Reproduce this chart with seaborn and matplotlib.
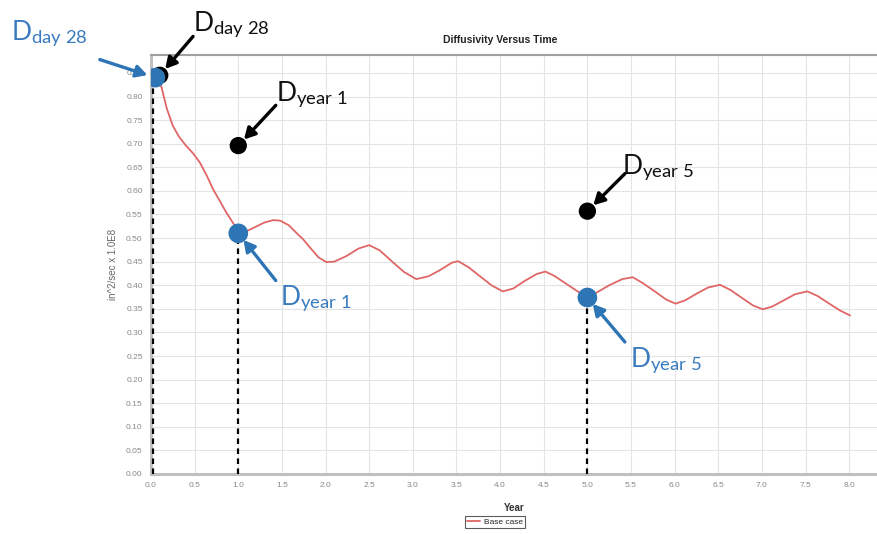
import numpy as np
import pandas as pd
import seaborn as sns
import matplotlib.pyplot as plt

# Base case diffusivity curve (years, in^2/sec x 1.0E8)
years = [0.07, 0.12, 0.18, 0.25, 0.32, 0.40, 0.48, 0.56, 0.64, 0.71, 0.79, 0.86, 0.94, 1.01,
         1.10, 1.20, 1.30, 1.40, 1.48, 1.58, 1.66, 1.74, 1.84, 1.92, 2.01, 2.10, 2.24, 2.38,
         2.50, 2.62, 2.77, 2.90, 3.04, 3.18, 3.31, 3.45, 3.52, 3.64, 3.77, 3.90, 4.03, 4.15,
         4.28, 4.42, 4.52, 4.62, 4.75, 4.88, 5.00, 5.12, 5.25, 5.40, 5.52, 5.64, 5.78, 5.90,
         6.01, 6.12, 6.25, 6.38, 6.52, 6.64, 6.78, 6.90, 7.01, 7.12, 7.25, 7.38, 7.52, 7.64,
         7.78, 7.90, 8.01]
diffusivity = [0.838, 0.820, 0.775, 0.738, 0.715, 0.696, 0.680, 0.660, 0.632, 0.604, 0.578, 0.555,
               0.532, 0.513, 0.515, 0.524, 0.533, 0.538, 0.537, 0.527, 0.512, 0.498, 0.476, 0.459,
               0.449, 0.450, 0.462, 0.478, 0.485, 0.474, 0.449, 0.428, 0.413, 0.419, 0.432, 0.448,
               0.451, 0.438, 0.419, 0.400, 0.387, 0.393, 0.409, 0.424, 0.429, 0.420, 0.404, 0.388,
               0.374, 0.386, 0.400, 0.413, 0.417, 0.404, 0.386, 0.370, 0.361, 0.368, 0.382, 0.395,
               0.401, 0.390, 0.372, 0.357, 0.349, 0.355, 0.368, 0.381, 0.387, 0.377, 0.360, 0.346,
               0.336]

# Marked points
blue_x = [0.05, 1.0, 5.0]
blue_y = [0.840, 0.510, 0.374]
black_x = [0.10, 1.0, 5.0]
black_y = [0.845, 0.696, 0.557]
vline_x = [0.02, 1.0, 5.0]
labels = ["day 28", "year 1", "year 5"]

x_ticks = np.arange(0, 8.01, 0.5)
y_ticks = np.arange(0, 0.851, 0.05)

sns.set_theme(style="whitegrid")
plt.rcParams["font.family"] = ["Liberation Sans", "DejaVu Sans"]
plt.rcParams["mathtext.fontset"] = "custom"
plt.rcParams["mathtext.rm"] = "Lato"
plt.rcParams["mathtext.it"] = "Lato:italic"

BLUE = "#2E75B6"
RED = "#E06666"

fig = plt.figure(figsize=(8.78, 5.34), dpi=100)
ax = fig.add_axes([0.172, 0.1124, 0.828, 0.7846])

df = pd.DataFrame({"Year": years, "D": diffusivity})
sns.lineplot(data=df, x="Year", y="D", ax=ax, color=RED, lw=1.3, label="Base case")

# dashed drop lines
ax.vlines(vline_x, 0, blue_y, colors="black", linestyles=(0, (2.5, 2)), lw=1.6, zorder=3)

sns.scatterplot(x=black_x, y=black_y, ax=ax, color="black", s=155, edgecolor="none", zorder=4)
sns.scatterplot(x=blue_x, y=blue_y, ax=ax, color=BLUE, s=200, edgecolor="none", zorder=5)

handles, leg_labels = ax.get_legend_handles_labels()
if ax.get_legend() is not None:
    ax.get_legend().remove()

ax.set_xlim(0, 8.33)
ax.set_ylim(0, 0.888)
ax.set_xticks(x_ticks)
ax.set_yticks(y_ticks)
ax.set_xticklabels([f"{v:.1f}" for v in x_ticks])
ax.set_yticklabels([f"{v:.2f}" for v in y_ticks])
ax.tick_params(axis="both", labelsize=6, colors="#999999", length=3, width=0.8, pad=3)
ax.tick_params(axis="both", labelcolor="#888888")
ax.grid(True, color="#e4e4e4", lw=0.8)

for side in ["left", "bottom"]:
    ax.spines[side].set_color("#c0c0c0")
    ax.spines[side].set_linewidth(2.2)
ax.spines["top"].set_color("#a0a0a0")
ax.spines["top"].set_linewidth(1.5)
ax.spines["right"].set_visible(False)

ax.set_xlabel("Year", fontsize=7, fontweight="bold", color="#333333", labelpad=10)
ax.set_ylabel("in^2/sec x 1.0E8", fontsize=7, color="#666666", labelpad=6)
ax.set_title("Diffusivity Versus Time", fontsize=7.5, fontweight="bold", color="#222222",
             x=0.48, pad=9)

arrow_kw = dict(arrowstyle="-|>,head_length=0.55,head_width=0.3", lw=2.4, shrinkA=0, shrinkB=6)

# text offsets and arrow tail offsets (points, relative to the marked dot)
blue_text_off = [(-104, 27), (30, -52), (31, -50)]
blue_arrow_off = [(-40, 13), (27, -34), (27, -32)]
black_text_off = [(24, 32), (27, 32), (25, 27)]
black_arrow_off = [(24, 28), (27, 29), (27, 27)]

for i, lab in enumerate(labels):
    txt = r"D$_{\mathrm{" + lab.replace(" ", r"\ ") + "}}$"
    ax.annotate("", xy=(blue_x[i], blue_y[i]), xytext=blue_arrow_off[i], textcoords="offset points",
                arrowprops=dict(color=BLUE, **arrow_kw), annotation_clip=False, zorder=6)
    ax.annotate(txt, xy=(blue_x[i], blue_y[i]), xytext=blue_text_off[i], textcoords="offset points",
                fontsize=19, color="#3A7BC0", family="Lato", ha="left", va="baseline",
                annotation_clip=False)
    ax.annotate("", xy=(black_x[i], black_y[i]), xytext=black_arrow_off[i], textcoords="offset points",
                arrowprops=dict(color="black", **arrow_kw), annotation_clip=False, zorder=6)
    ax.annotate(txt, xy=(black_x[i], black_y[i]), xytext=black_text_off[i], textcoords="offset points",
                fontsize=19, color="#111111", family="Lato", ha="left", va="baseline",
                annotation_clip=False)

leg = fig.legend(handles[:1], leg_labels[:1], loc="center", bbox_to_anchor=(495 / 878, 1 - 522 / 534),
                 fontsize=6, frameon=True, fancybox=False, handlelength=1.6, borderpad=0.3,
                 handletextpad=0.4)
leg.get_frame().set_edgecolor("#333333")
leg.get_frame().set_linewidth(0.8)

fig.savefig("out.png", dpi=100)
